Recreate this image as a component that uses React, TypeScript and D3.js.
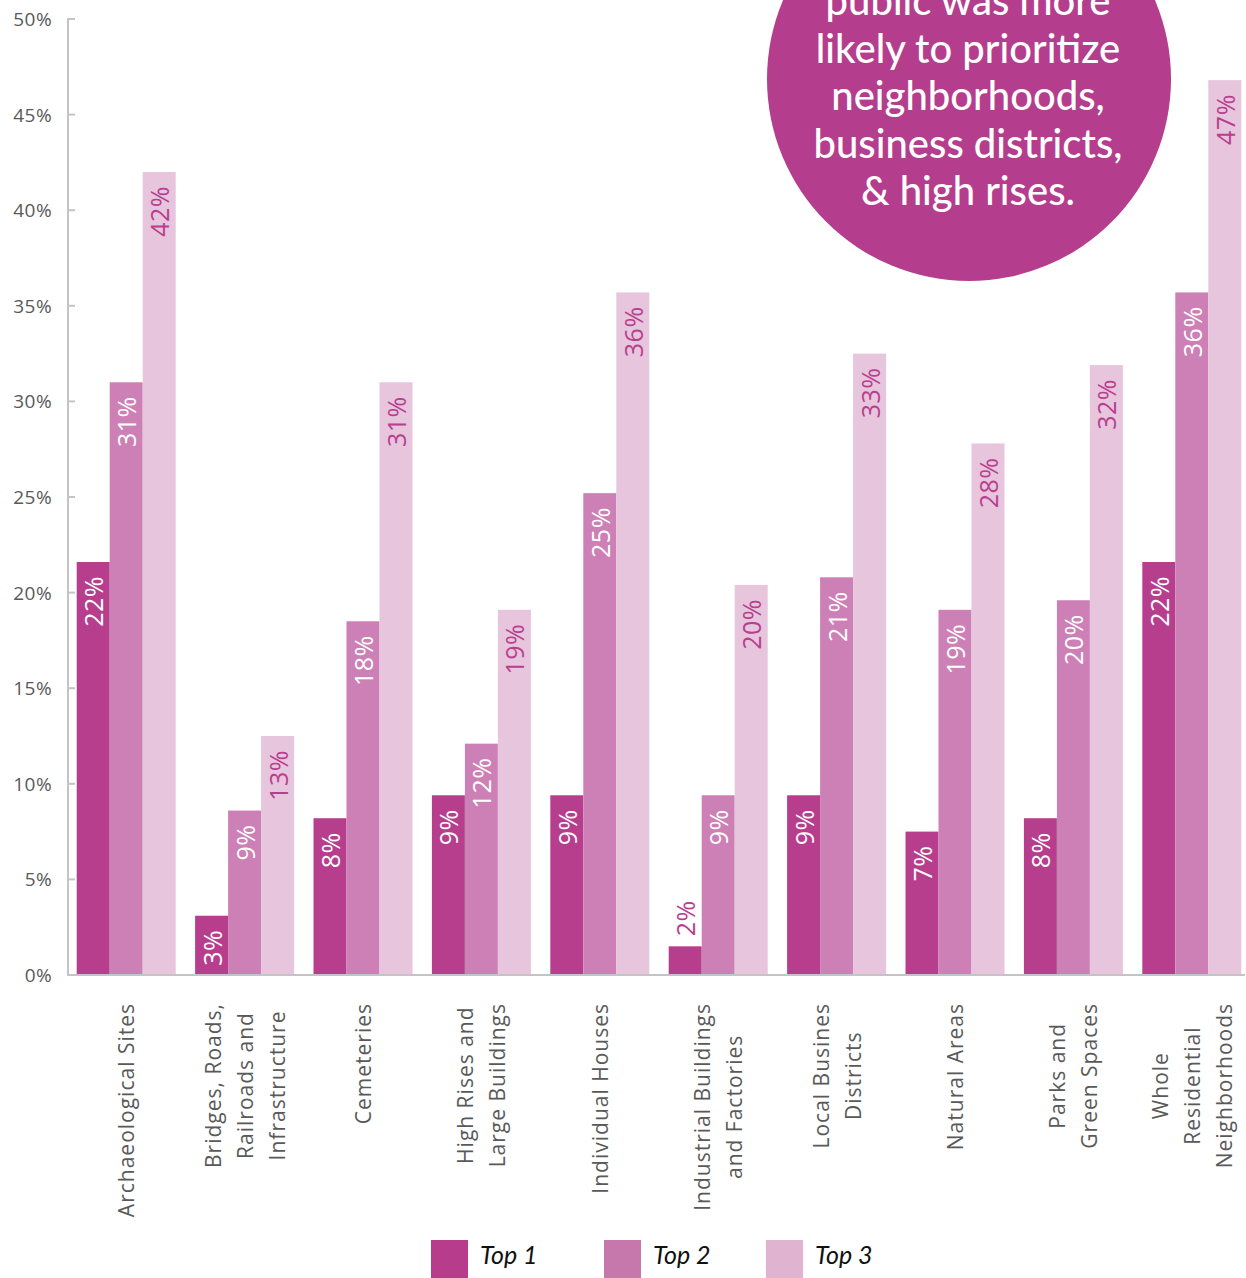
import React, { useEffect, useRef } from "react";
import * as d3 from "d3";

const categories: string[][] = [
  ["Archaeological Sites"],
  ["Bridges, Roads,", "Railroads and", "Infrastructure"],
  ["Cemeteries"],
  ["High Rises and", "Large Buildings"],
  ["Individual Houses"],
  ["Industrial Buildings", "and Factories"],
  ["Local Busines", "Districts"],
  ["Natural Areas"],
  ["Parks and", "Green Spaces"],
  ["Whole", "Residential", "Neighborhoods"],
];
const seriesNames = ["Top 1", "Top 2", "Top 3"];
const top1 = [21.6, 3.1, 8.2, 9.4, 9.4, 1.5, 9.4, 7.5, 8.2, 21.6];
const top2 = [31.0, 8.6, 18.5, 12.1, 25.2, 9.4, 20.8, 19.1, 19.6, 35.7];
const top3 = [42.0, 12.5, 31.0, 19.1, 35.7, 20.4, 32.5, 27.8, 31.9, 46.8];
const valueLabels = [
  ["22%", "3%", "8%", "9%", "9%", "2%", "9%", "7%", "8%", "22%"],
  ["31%", "9%", "18%", "12%", "25%", "9%", "21%", "19%", "20%", "36%"],
  ["42%", "13%", "31%", "19%", "36%", "20%", "33%", "28%", "32%", "47%"],
];
const yTicks = [0, 5, 10, 15, 20, 25, 30, 35, 40, 45, 50];
const calloutLines = [
  "public was more",
  "likely to prioritize",
  "neighborhoods,",
  "business districts,",
  "& high rises.",
];

const barColors = ["#b73d8d", "#cd80b5", "#e6c5dd"];
const legendColors = ["#b83c8c", "#c677ab", "#e0b4d0"];
const labelColors = ["#ffffff", "#ffffff", "#b93e8f"];

export default function App() {
  const ref = useRef<SVGSVGElement | null>(null);

  useEffect(() => {
    const svg = d3.select(ref.current);
    svg.selectAll("*").remove();
    const W = 1246;
    const left = 67;
    const y0 = 975;
    const yTop = 19;
    const series = [top1, top2, top3];

    const x = d3
      .scaleBand<number>()
      .domain(d3.range(categories.length))
      .range([left, 1251])
      .paddingInner(0.164)
      .paddingOuter(0.082);
    const xs = d3
      .scaleBand<number>()
      .domain([0, 1, 2])
      .range([0, x.bandwidth()]);
    const y = d3.scaleLinear().domain([0, 50]).range([y0, yTop]);

    // bars
    const g = svg.append("g");
    series.forEach((vals, si) => {
      g.selectAll(`rect.s${si}`)
        .data(vals)
        .enter()
        .append("rect")
        .attr("x", (_, i) => (x(i) as number) + (xs(si) as number))
        .attr("y", (d) => y(d))
        .attr("width", xs.bandwidth())
        .attr("height", (d) => y0 - y(d))
        .attr("fill", barColors[si]);
    });

    // value labels
    series.forEach((vals, si) => {
      vals.forEach((v, i) => {
        const cx = (x(i) as number) + (xs(si) as number) + xs.bandwidth() / 2;
        const t = g
          .append("text")
          .text(valueLabels[si][i])
          .attr("font-family", "Open Sans, sans-serif")
          .attr("font-size", 25)
          .attr("letter-spacing", 0.5)
          .attr("dominant-baseline", "central");
        const len = (t.node() as SVGTextElement).getComputedTextLength();
        const h = y0 - y(v);
        if (h < len + 22) {
          t.attr("text-anchor", "start")
            .attr("fill", "#b93e8f")
            .attr("transform", `translate(${cx},${y(v) - 10}) rotate(-90)`);
        } else {
          t.attr("text-anchor", "end")
            .attr("fill", labelColors[si])
            .attr("transform", `translate(${cx},${y(v) + 14}) rotate(-90)`);
        }
      });
    });

    // axes
    const axisColor = "#c4c4c4";
    svg
      .append("line")
      .attr("x1", left + 1)
      .attr("x2", left + 1)
      .attr("y1", yTop)
      .attr("y2", y0)
      .attr("stroke", axisColor)
      .attr("stroke-width", 2);
    svg
      .append("line")
      .attr("x1", left)
      .attr("x2", W - 1)
      .attr("y1", y0)
      .attr("y2", y0)
      .attr("stroke", axisColor)
      .attr("stroke-width", 2);
    yTicks.forEach((t) => {
      svg
        .append("line")
        .attr("x1", left)
        .attr("x2", left + 8)
        .attr("y1", y(t))
        .attr("y2", y(t))
        .attr("stroke", axisColor)
        .attr("stroke-width", 2);
      svg
        .append("text")
        .text(`${t}%`)
        .attr("x", 52)
        .attr("y", y(t))
        .attr("text-anchor", "end")
        .attr("dominant-baseline", "central")
        .attr("font-family", "Open Sans, sans-serif")
        .attr("font-size", 19)
        .attr("letter-spacing", 0.4)
        .attr("fill", "#595959");
    });

    // category labels
    categories.forEach((lines, i) => {
      const cx = (x(i) as number) + x.bandwidth() / 2;
      const n = lines.length;
      const texts = lines.map((ln) =>
        svg
          .append("text")
          .text(ln)
          .attr("font-family", "Open Sans, sans-serif")
          .attr("font-size", 21)
          .attr("letter-spacing", 1)
          .attr("fill", "#595959")
          .attr("text-anchor", "middle")
          .attr("dominant-baseline", "central")
      );
      const maxW = d3.max(texts, (t) => (t.node() as SVGTextElement).getComputedTextLength()) as number;
      const cy = 1003 + maxW / 2;
      texts.forEach((t, li) => {
        const lx = cx + (li - (n - 1) / 2) * 32;
        t.attr("transform", `translate(${lx},${cy}) rotate(-90)`);
      });
    });

    // legend
    const legendX = [431, 604, 766];
    seriesNames.forEach((name, si) => {
      svg
        .append("rect")
        .attr("x", legendX[si])
        .attr("y", 1240)
        .attr("width", 37)
        .attr("height", 38)
        .attr("fill", legendColors[si]);
      svg
        .append("text")
        .text(name)
        .attr("x", legendX[si] + 49)
        .attr("y", 1254)
        .attr("dominant-baseline", "central")
        .attr("font-family", "Lato, sans-serif")
        .attr("font-style", "italic")
        .attr("font-size", 25)
        .attr("fill", "#111111");
    });

    // callout circle
    svg
      .append("circle")
      .attr("cx", 969)
      .attr("cy", 79)
      .attr("r", 202)
      .attr("fill", "#b53d8d");
    calloutLines.forEach((ln, li) => {
      svg
        .append("text")
        .text(ln)
        .attr("x", 968)
        .attr("y", 15 + li * 47.5)
        .attr("text-anchor", "middle")
        .attr("font-family", "Lato, sans-serif")
        .attr("font-weight", 500)
        .attr("font-size", 40)
        .attr("fill", "#ffffff");
    });
  }, []);

  return (
    <svg
      ref={ref}
      width={1246}
      height={1278}
      style={{ position: "absolute", left: 0, top: 0, background: "#ffffff" }}
    />
  );
}
